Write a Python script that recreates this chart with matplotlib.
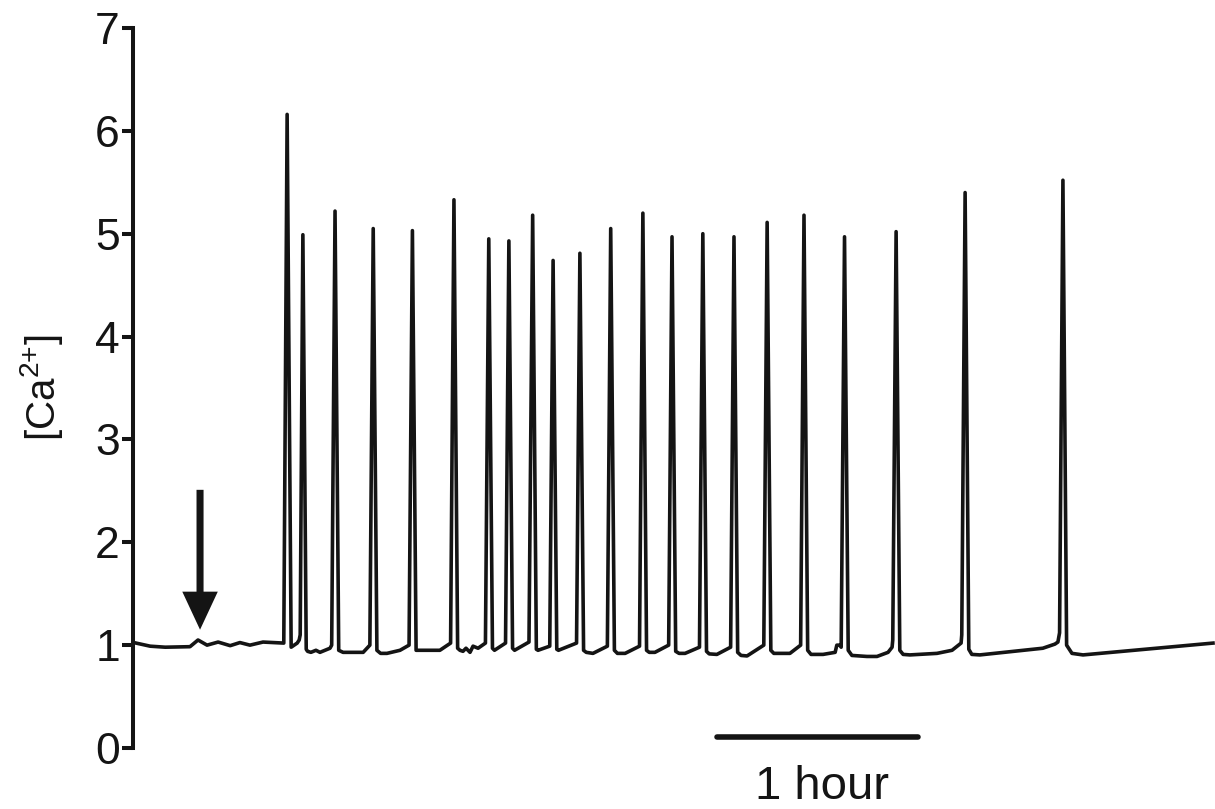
import matplotlib.pyplot as plt

plt.rcParams['font.family'] = ['Liberation Sans', 'DejaVu Sans']
plt.rcParams['mathtext.fontset'] = 'custom'
plt.rcParams['mathtext.rm'] = 'Liberation Sans'
plt.rcParams['mathtext.it'] = 'Liberation Sans'

# trace vertices: time (min) and [Ca2+]
time_min = [
    0.9, 5.1, 9.6, 17.0, 19.4, 22.1, 25.4, 29.0, 31.9, 34.9, 38.8, 45.0,
    46.0, 47.2, 49.0, 49.6, 49.9,
    50.7, 51.7, 52.1, 53.1, 54.6, 55.8, 58.8, 59.3,
    60.3, 61.4, 62.7, 68.7, 70.7,
    71.7, 72.8, 73.9, 75.8, 79.7, 82.4,
    83.4, 84.5, 85.7, 91.6, 94.8,
    95.8, 96.9, 97.6, 98.5, 99.4, 100.6, 101.5, 103.0, 105.2,
    106.2, 107.3, 107.9, 111.2,
    112.2, 113.3, 113.9, 118.2,
    119.3, 120.4, 120.9, 124.4,
    125.4, 126.5, 127.0, 132.4,
    133.4, 134.5, 135.3, 137.3, 141.6,
    142.6, 143.7, 144.6, 146.9, 151.2,
    152.2, 153.3, 154.1, 155.8, 159.9,
    160.9, 162.0, 163.0, 164.8, 169.1,
    170.1, 171.2, 172.0, 174.3, 178.4,
    179.4, 180.5, 181.5, 183.3, 188.3,
    189.3, 190.4, 191.3, 196.1, 199.3,
    200.3, 201.4, 202.4, 206.0, 209.6, 210.1, 211.0, 211.4,
    212.4, 213.5, 214.6, 219.1, 222.1, 225.4, 226.6, 226.8,
    227.8, 228.9, 229.9, 231.9, 240.0, 244.5, 247.2, 247.4,
    248.4, 249.5, 250.4, 252.8, 271.6, 275.2, 276.1, 276.6,
    277.6, 278.7, 280.3, 283.6, 322.4,
]
ca = [
    1.02, 0.99, 0.98, 0.985, 1.05, 1.00, 1.03, 0.995, 1.025, 1.00, 1.03, 1.02,
    6.16, 0.98, 1.02, 1.05, 1.10,
    4.99, 0.96, 0.94, 0.93, 0.95, 0.93, 0.97, 1.00,
    5.22, 0.95, 0.93, 0.93, 1.00,
    5.05, 0.95, 0.92, 0.92, 0.95, 1.00,
    5.03, 0.95, 0.95, 0.95, 1.02,
    5.33, 0.97, 0.95, 0.94, 0.97, 0.93, 0.99, 0.97, 1.02,
    4.95, 0.97, 0.95, 1.02,
    4.93, 0.97, 0.95, 1.03,
    5.18, 0.96, 0.95, 0.99,
    4.74, 0.96, 0.95, 1.02,
    4.81, 0.95, 0.93, 0.92, 0.99,
    5.05, 0.95, 0.92, 0.92, 0.99,
    5.20, 0.95, 0.93, 0.93, 1.00,
    4.97, 0.94, 0.92, 0.92, 0.98,
    5.00, 0.94, 0.915, 0.91, 0.98,
    4.97, 0.93, 0.90, 0.895, 1.00,
    5.11, 0.95, 0.92, 0.92, 1.00,
    5.18, 0.95, 0.91, 0.91, 0.93, 1.00, 1.00, 0.98,
    4.97, 0.95, 0.90, 0.89, 0.89, 0.93, 0.98, 1.05,
    5.02, 0.95, 0.91, 0.905, 0.92, 0.95, 1.02, 1.10,
    5.40, 0.96, 0.91, 0.905, 0.97, 1.01, 1.03, 1.12,
    5.52, 1.00, 0.92, 0.905, 1.02,
]

yticks = [0, 1, 2, 3, 4, 5, 6, 7]

# stimulus arrow (time, top, tip) and 1 hour scale bar (start, end, level)
arrow_t = 20.0
arrow_top = 2.51
arrow_tip = 1.15
bar_start = 174.3
bar_end = 234.3
bar_level = 0.107

ink = '#141414'

fig = plt.figure(figsize=(12.15, 8.09), dpi=100)
ax = fig.add_axes([0.1095, 0.0754, 0.8905, 0.890])

ax.plot(time_min, ca, color=ink, lw=2.6, solid_joinstyle='round', clip_on=False)

ax.arrow(arrow_t, arrow_top, 0, arrow_tip - arrow_top, width=2.1, head_width=10.6,
         head_length=0.37, length_includes_head=True, color=ink, lw=0)

ax.plot([bar_start, bar_end], [bar_level, bar_level], color=ink, lw=4,
        solid_capstyle='round', clip_on=False)
ax.text((bar_start + bar_end) / 2 + 1.4, -0.17, '1 hour', ha='center', va='top',
        fontsize=34, color=ink, clip_on=False)

ax.set_xlim(0, 323)
ax.set_ylim(0, 7)
ax.set_yticks(yticks)
ax.set_xticks([])
for s in ['top', 'right', 'bottom']:
    ax.spines[s].set_visible(False)
ax.spines['left'].set_linewidth(2.9)
ax.spines['left'].set_color(ink)
ax.tick_params(axis='y', length=8, width=2.9, pad=1.5, labelsize=32, colors=ink)

ax.set_ylabel('[Ca$^{2{+}}$]', fontsize=29, color=ink)
ax.yaxis.set_label_coords(-0.063, 0.5)

fig.savefig('out.png', dpi=100)
